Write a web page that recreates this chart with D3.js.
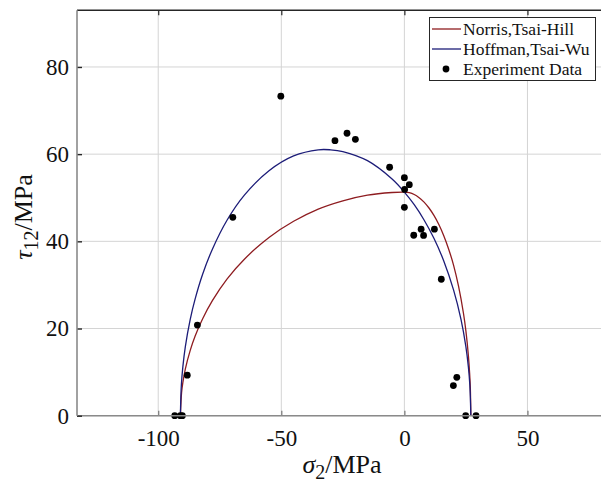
<!DOCTYPE html>
<html>
<head>
<meta charset="utf-8">
<script src="https://cdn.jsdelivr.net/npm/d3@7"></script>
<style>
  body { margin: 0; background: #fff; }
  svg { display: block; }
  text { font-family: "Liberation Serif", "Times New Roman", Times, serif; }
</style>
</head>
<body>
<div id="chart"></div>
<script>
// Norris / Tsai-Hill envelope, [sigma2, tau12]
const norrisCurve = [
  [-91, 0], [-90.5, 5.4], [-90, 7.6], [-89, 10.7], [-87, 15.0], [-85, 18.3], [-82, 22.2],
  [-78, 26.4], [-72, 31.4], [-65, 35.9], [-55, 40.9], [-45, 44.6], [-35, 47.4],
  [-25, 49.3], [-15, 50.6], [-5, 51.2], [0, 51.3], [2, 51.16], [4, 50.74], [6, 50.0],
  [8, 49.0], [10, 47.65], [12, 45.96], [14, 43.87], [16, 41.3], [18, 38.2], [20, 34.5],
  [22, 29.7], [24, 23.5], [25, 19.4], [26, 13.8], [26.5, 9.8], [26.8, 6.2], [27, 0]
]
// Hoffman / Tsai-Wu envelope
const hoffmanCurve = [
  [-91, 0], [-90.6, 7.1], [-90, 11.2], [-89, 15.8], [-87, 22.1], [-85, 26.8], [-82, 32.4],
  [-78, 38.2], [-72, 44.9], [-65, 50.6], [-55, 56.2], [-45, 59.6], [-35, 61.0],
  [-30, 61.0], [-25, 60.6], [-15, 58.5], [-5, 54.3], [0, 51.3], [4, 48.4], [8, 44.9],
  [12, 40.7], [16, 35.5], [20, 28.8], [23, 22.1], [25, 15.8], [26, 11.2], [26.6, 7.0], [27, 0]
]
// experiment points
const expSigma = [-93.3, -91.0, -90.2, -88.2, -84.1, -69.7, -50.2, -28.2, -23.3, -19.9, -6.0,
  0.0, 2.0, 0.1, 0.0, 3.8, 6.8, 7.8, 12.2, 15.0, 19.9, 21.3, 24.9, 29.1]
const expTau = [0, 0, 0, 9.3, 20.8, 45.5, 73.3, 63.1, 64.8, 63.4, 57.0,
  54.6, 53.0, 51.9, 47.8, 41.4, 42.8, 41.35, 42.8, 31.3, 6.9, 8.8, 0, 0]

const xTicks = [-100, -50, 0, 50]
const yTicks = [0, 20, 40, 60, 80]
const legendNames = ['Norris,Tsai-Hill', 'Hoffman,Tsai-Wu', 'Experiment Data']

const width = 601, height = 487
const plotLeft = 77, plotTop = 10.3, plotBottom = 415.7, plotRight = 601.3
const red = '#8e1c20', blue = '#1c1c78'
const serif = '"Liberation Serif", "Times New Roman", Times, serif'

const svg = d3.select('#chart').append('svg')
  .attr('width', width).attr('height', height)

const x = d3.scaleLinear().domain([-133, 80]).range([plotLeft, plotRight])
const y = d3.scaleLinear().domain([0, 93]).range([plotBottom, plotTop])

// grid
const grid = svg.append('g')
grid.selectAll('.gx').data(xTicks).enter().append('line')
  .attr('x1', d => x(d)).attr('x2', d => x(d))
  .attr('y1', plotTop).attr('y2', plotBottom)
  .style('stroke', '#d4d4d4').style('stroke-width', 1)
grid.selectAll('.gy').data(yTicks).enter().append('line')
  .attr('x1', plotLeft).attr('x2', plotRight)
  .attr('y1', d => y(d)).attr('y2', d => y(d))
  .style('stroke', '#d4d4d4').style('stroke-width', 1)

// curves
const line = d3.line()
  .x(d => x(d[0]))
  .y(d => y(d[1]))
  .curve(d3.curveCatmullRom.alpha(0.5))

svg.append('path').attr('d', line(norrisCurve))
  .style('fill', 'none').style('stroke', red).style('stroke-width', 1.3)
svg.append('path').attr('d', line(hoffmanCurve))
  .style('fill', 'none').style('stroke', blue).style('stroke-width', 1.3)

// points
svg.append('g').selectAll('circle').data(expSigma).enter().append('circle')
  .attr('cx', d => x(d))
  .attr('cy', (d, i) => y(expTau[i]))
  .attr('r', 3.4)
  .style('fill', '#000')

// axes
const xAxis = d3.axisBottom(x).tickValues(xTicks).tickSize(-5).tickPadding(14)
  .tickFormat(d => d < 0 ? '-' + Math.abs(d) : d)
const gx = svg.append('g').attr('transform', `translate(0, ${plotBottom})`).call(xAxis)
  .attr('font-family', serif)
gx.select('.domain').remove()
gx.selectAll('.tick line').style('stroke', '#777').style('stroke-width', 1.2)
gx.selectAll('.tick text').style('font-size', '23px').style('fill', '#111')
svg.append('line').attr('x1', plotLeft).attr('x2', plotRight)
  .attr('y1', plotBottom).attr('y2', plotBottom)
  .style('stroke', '#8a8a8a').style('stroke-width', 1.6)

const xTop = d3.axisTop(x).tickValues(xTicks).tickSize(-5).tickFormat('')
const gt = svg.append('g').attr('transform', `translate(0, ${plotTop})`).call(xTop)
gt.select('.domain').remove()
gt.selectAll('.tick line').style('stroke', '#262626').style('stroke-width', 1.2)
svg.append('line').attr('x1', plotLeft).attr('x2', plotRight)
  .attr('y1', plotTop).attr('y2', plotTop)
  .style('stroke', '#262626').style('stroke-width', 1.4)

const yAxis = d3.axisLeft(y).tickValues(yTicks).tickSize(-5).tickPadding(8)
const gy = svg.append('g').attr('transform', `translate(${plotLeft}, 0)`).call(yAxis)
  .attr('font-family', serif)
gy.select('.domain').remove()
gy.selectAll('.tick line').style('stroke', '#262626').style('stroke-width', 1.4)
gy.selectAll('.tick text').style('font-size', '23px').style('fill', '#111')
svg.append('line').attr('x1', plotLeft).attr('x2', plotLeft)
  .attr('y1', plotTop).attr('y2', plotBottom)
  .style('stroke', '#8a8a8a').style('stroke-width', 1.6)

// axis titles
const xt = svg.append('text')
  .attr('x', 342).attr('y', 473)
  .attr('text-anchor', 'middle')
  .style('font-size', '26px').style('fill', '#111')
xt.append('tspan').text('σ').style('font-style', 'italic')
xt.append('tspan').text('2').attr('dy', 6).style('font-size', '20px')
xt.append('tspan').text('/MPa').attr('dy', -6)

const yt = svg.append('text')
  .attr('transform', 'translate(32, 217) rotate(-90)')
  .attr('text-anchor', 'middle')
  .style('font-size', '26px').style('fill', '#111')
yt.append('tspan').text('τ').style('font-style', 'italic')
yt.append('tspan').text('12').attr('dy', 6).style('font-size', '20px')
yt.append('tspan').text('/MPa').attr('dy', -6)

// legend
const lg = svg.append('g')
lg.append('rect').attr('x', 429.5).attr('y', 17.5).attr('width', 166).attr('height', 63)
  .style('fill', '#fff').style('stroke', '#262626').style('stroke-width', 1)
const rowY = [29, 49, 69]
lg.selectAll('text').data(legendNames).enter().append('text')
  .attr('x', 463).attr('y', (d, i) => rowY[i] + 6)
  .style('font-size', '17.5px').style('fill', '#111')
  .text(d => d)
lg.append('line').attr('x1', 432).attr('x2', 461).attr('y1', rowY[0]).attr('y2', rowY[0])
  .style('stroke', red).style('stroke-width', 1.3)
lg.append('line').attr('x1', 432).attr('x2', 461).attr('y1', rowY[1]).attr('y2', rowY[1])
  .style('stroke', blue).style('stroke-width', 1.3)
lg.append('circle').attr('cx', 446).attr('cy', rowY[2]).attr('r', 3.4).style('fill', '#000')
</script>
</body>
</html>
